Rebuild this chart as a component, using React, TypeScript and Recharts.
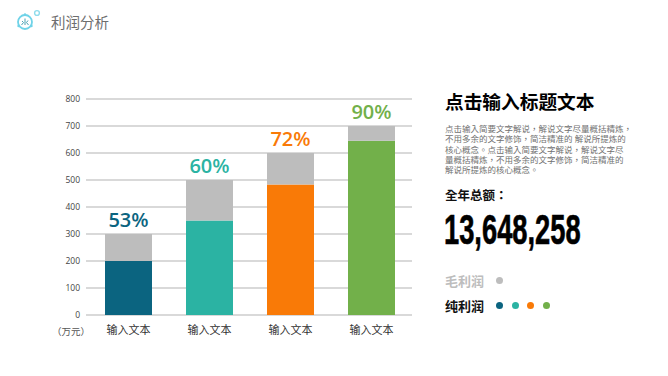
import React from 'react';
import { BarChart, Bar, XAxis, YAxis, CartesianGrid, Cell, LabelList } from 'recharts';

const categories = ['输入文本', '输入文本', '输入文本', '输入文本'];
const netProfit = [200, 350, 483, 645];
const grossProfit = [300, 500, 600, 700];
const percentLabels = ['53%', '60%', '72%', '90%'];
const barColors = ['#0b6480', '#2bb3a3', '#f97a07', '#72b04a'];
const yTicks = [0, 100, 200, 300, 400, 500, 600, 700, 800];
const GREY = '#bdbdbd';
const CJK = '"Noto Sans CJK SC", "Noto Sans", sans-serif';
const CJK_TC = '"Liberation Sans", "Noto Sans CJK TC", sans-serif';

const bodyText = [
    '点击输入简要文字解说，解说文字尽量概括精炼，',
    '不用多余的文字修饰，简洁精准的 解说所提炼的',
    '核心概念。点击输入简要文字解说，解说文字尽',
    '量概括精炼，不用多余的文字修饰，简洁精准的',
    '解说所提炼的核心概念。',
];

const data = categories.map((name, i) => ({
    name,
    net: netProfit[i],
    rest: grossProfit[i] - netProfit[i],
    label: percentLabels[i],
}));

const Dot = ({ color }: { color: string }) => (
    <span style={{ display: 'inline-block', width: 7, height: 7, borderRadius: '50%', background: color, marginRight: 8.5 }} />
);

const PercentLabel = (props: any) => {
    const { x, y, width, index } = props;
    return (
        <text
            x={x + width / 2}
            y={y - 7}
            textAnchor="middle"
            fill={barColors[index]}
            fontSize={20}
            fontWeight={600}
            fontFamily='"Open Sans", sans-serif'
        >
            {percentLabels[index]}
        </text>
    );
};

const abs = (left: number, top: number): React.CSSProperties => ({
    position: 'absolute',
    left,
    top,
    whiteSpace: 'nowrap',
    fontFamily: CJK,
});

export default function App() {
    return (
        <div style={{ position: 'fixed', left: 0, top: 0, width: 668, height: 376, background: '#fff', overflow: 'hidden' }}>
            {/* header icon */}
            <svg width={28} height={26} style={{ position: 'absolute', left: 14, top: 7 }}>
                <circle cx={11} cy={15} r={7} fill="none" stroke="#6fd3e8" strokeWidth={1.8} />
                <circle cx={11} cy={7.5} r={1.2} fill="#6fd3e8" />
                <circle cx={4.5} cy={19} r={1.2} fill="#6fd3e8" />
                <circle cx={17.5} cy={19} r={1.2} fill="#6fd3e8" />
                <path d="M11 11.5 V18 M8 14 L9.5 15.5 L7.5 18 M14 13.5 L12.5 15.5 L14.5 18" fill="none" stroke="#4aa3b5" strokeWidth={1} />
                <circle cx={23} cy={6} r={2.4} fill="none" stroke="#8fdcec" strokeWidth={1.4} />
            </svg>
            <div style={{ ...abs(51, 12), fontSize: 14.5, color: '#6e6e6e', lineHeight: '20px' }}>利润分析</div>

            <BarChart
                width={668}
                height={376}
                data={data}
                margin={{ top: 99, right: 256, bottom: 0, left: 0 }}
                style={{ position: 'absolute', left: 0, top: 0 }}
            >
                <CartesianGrid horizontal vertical={false} stroke="#cccccc" strokeWidth={1.3} />
                <XAxis
                    dataKey="name"
                    height={61}
                    axisLine={false}
                    tickLine={false}
                    tickMargin={5}
                    interval={0}
                    padding={{ left: 2, right: 0 }}
                    tick={{ fontSize: 11, fill: '#333333', fontFamily: CJK }}
                />
                <YAxis
                    width={86}
                    domain={[0, 800]}
                    ticks={yTicks}
                    axisLine={false}
                    tickLine={false}
                    tickMargin={0}
                    tick={{ fontSize: 8.5, fill: '#444444', fontFamily: '"Open Sans", sans-serif' }}
                />
                <Bar dataKey="net" stackId="a" barSize={47} isAnimationActive={false}>
                    {data.map((_, i) => (
                        <Cell key={i} fill={barColors[i]} />
                    ))}
                </Bar>
                <Bar dataKey="rest" stackId="a" barSize={47} fill={GREY} isAnimationActive={false}>
                    <LabelList dataKey="label" content={PercentLabel} />
                </Bar>
            </BarChart>

            <div style={{ ...abs(52, 324), fontSize: 9.5, color: '#555', lineHeight: '14px' }}>（万元）</div>

            <div style={{ ...abs(445, 89), fontSize: 18.7, fontWeight: 700, color: '#000', lineHeight: '24px' }}>点击输入标题文本</div>
            <div style={{ ...abs(445, 124), fontFamily: CJK_TC, fontSize: 8.5, color: '#707070', lineHeight: '10.3px' }}>
                {bodyText.map((line, i) => (
                    <div key={i}>{line}</div>
                ))}
            </div>
            <div style={{ ...abs(445, 187), fontFamily: CJK_TC, fontSize: 12.5, fontWeight: 700, color: '#111', lineHeight: '18px' }}>全年总额：</div>
            <div
                style={{
                    ...abs(444, 206),
                    fontFamily: '"Liberation Sans", sans-serif',
                    fontSize: 42,
                    fontWeight: 700,
                    color: '#000',
                    lineHeight: '48px',
                    WebkitTextStroke: '0.6px #000',
                    transformOrigin: 'left top',
                    transform: 'scaleX(0.65)',
                }}
            >
                13,648,258
            </div>

            <div style={{ ...abs(445, 272), fontSize: 13, fontWeight: 700, color: GREY, lineHeight: '18px' }}>毛利润</div>
            <div style={{ position: 'absolute', left: 496, top: 272, lineHeight: '14px' }}>
                <Dot color={GREY} />
            </div>
            <div style={{ ...abs(445, 297), fontSize: 13, fontWeight: 700, color: '#111', lineHeight: '18px' }}>纯利润</div>
            <div style={{ position: 'absolute', left: 496, top: 297, lineHeight: '14px', whiteSpace: 'nowrap' }}>
                {barColors.map((c) => (
                    <Dot key={c} color={c} />
                ))}
            </div>
        </div>
    );
}
